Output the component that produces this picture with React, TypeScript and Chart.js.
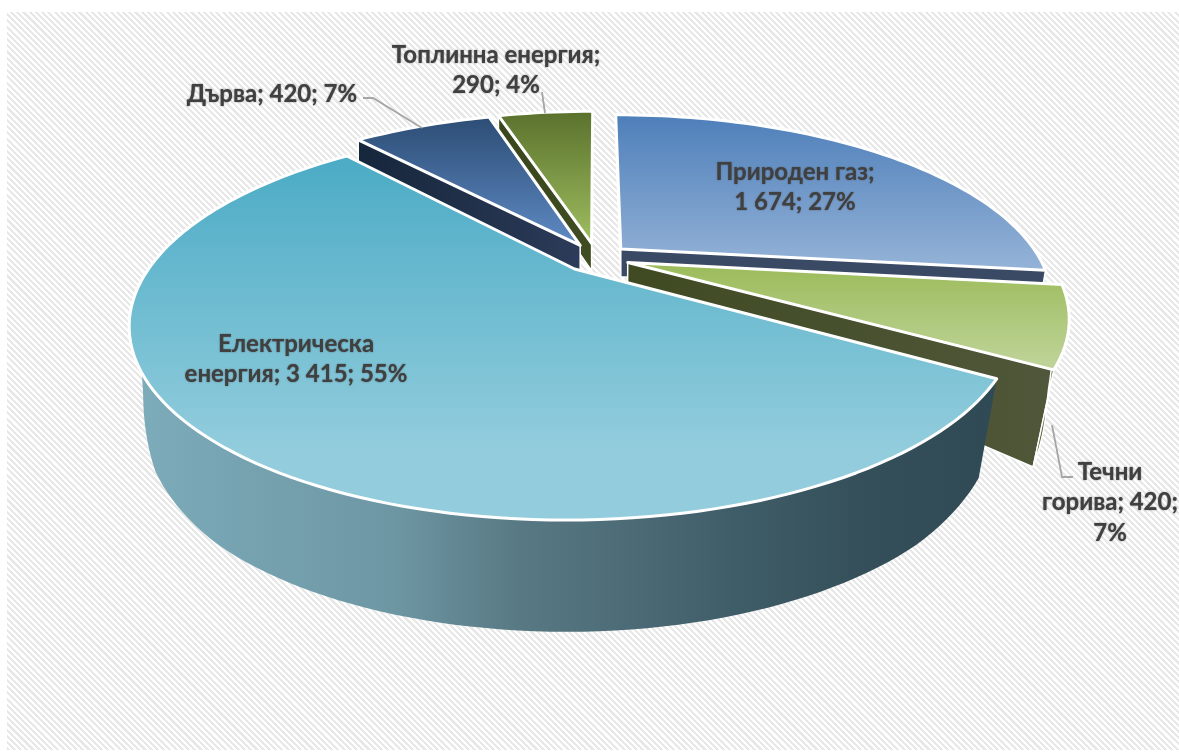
import React, { useEffect, useRef } from "react";
import { Chart, registerables } from "chart.js";

Chart.register(...registerables);

const categories = ["Природен газ", "Течни горива", "Електрическа енергия", "Дърва", "Топлинна енергия"];
const values = [1674, 420, 3415, 420, 290];
const percents = [27, 7, 55, 7, 4];

// layout only
const W = 1179, H = 753;
const X0 = 596.75, Y0 = 258, RX = 419, RY = 175.3, K = 0.273;
const SHRINK_LEFT = 0.03, SHRINK_RIGHT = 0.045;
const depthTable = [[-1.2, 20], [-0.5, 24], [0, 28], [0.3, 60], [0.55, 98], [0.8, 108], [1.15, 113]];
const sliceOffsets = [28, 28, 29, 30, 31];
const drawOrder = [4, 3, 0, 1, 2];
const visibleSides = [[true, true], [false, true], [false, false], [true, false], [true, false]];
const topColors = [["#4e7fba", "#95b3d7"], ["#9bbb59", "#c0d49b"], ["#4babc5", "#93cddd"], ["#2c4d75", "#5f8ac4"], ["#5a712c", "#9fbe60"]];
const topEnds = [1, 1, 0.82, 1, 1];
const sideColors = [["#3b4a64", "#3b4a64"], ["#3f4a22", "#50573a"], ["#2f4b55", "#2f4b55"], ["#16263b", "#2b3b59"], ["#39461c", "#404d22"]];
const outerColors = ["", "#4f5e2f", "", "", ""];
const bigWallStops: [number, string][] = [[0, "#7dacbb"], [0.3, "#6e97a4"], [0.45, "#587984"], [0.7, "#3f5d68"], [0.85, "#344f59"], [1, "#2f4a54"]];
const lineWordCounts = [[2, 3], [1, 2, 1], [1, 4], [3], [2, 2]];
const labelCentres = [[795, 172], [1110, 472], [296, 344], [272, 94], [496, 55]];
const leaders = [
  null,
  [[1052, 425], [1062, 477], [1073, 477]],
  null,
  [[363, 98], [373, 98], [422, 128]],
  [[542, 92], [545, 113]],
];
const FONT = 'bold 24px Lato, "Open Sans"';
const LINE_H = 30.5;

const fmt = (v: number) => String(v).replace(/\B(?=(\d{3})+$)/g, " ");

function labelLines(i: number): string[] {
  const words = `${categories[i]}; ${fmt(values[i])}; ${percents[i]}%`.split(" ");
  const out: string[] = [];
  let p = 0;
  for (const n of lineWordCounts[i]) {
    out.push(words.slice(p, p + n).join(" "));
    p += n;
  }
  return out;
}

function project(u: number, v: number): [number, number] {
  const w = 1 - K * v;
  return [X0 + (RX * u) / w, Y0 + (RY * v) / w];
}
function depth(v: number): number {
  for (let i = 1; i < depthTable.length; i++) {
    if (v <= depthTable[i][0]) {
      const [a, da] = depthTable[i - 1];
      const [b, db] = depthTable[i];
      return da + ((db - da) * (v - a)) / (b - a);
    }
  }
  return depthTable[depthTable.length - 1][1];
}
function lower(u: number, v: number): [number, number] {
  const [x, y] = project(u, v);
  const fade = Math.max(0, Math.min(1, (v + 0.05) / 0.4));
  const s = (x < X0 ? SHRINK_LEFT : SHRINK_RIGHT) * fade;
  return [X0 + (x - X0) * (1 - s), y + depth(v)];
}

function poly(ctx: CanvasRenderingContext2D, pts: [number, number][]) {
  ctx.beginPath();
  pts.forEach((p, i) => (i ? ctx.lineTo(p[0], p[1]) : ctx.moveTo(p[0], p[1])));
  ctx.closePath();
}
function gradY(ctx: CanvasRenderingContext2D, pts: [number, number][], c: string[], end: number) {
  const ys = pts.map((p) => p[1]);
  const a = Math.min(...ys), b = Math.max(...ys);
  const g = ctx.createLinearGradient(0, a, 0, a + (b - a) * end);
  g.addColorStop(0, c[0]);
  g.addColorStop(1, c[1]);
  return g;
}
function gradX(ctx: CanvasRenderingContext2D, pts: [number, number][], c: string[]) {
  const xs = pts.map((p) => p[0]);
  const g = ctx.createLinearGradient(Math.min(...xs), 0, Math.max(...xs), 0);
  g.addColorStop(0, c[0]);
  g.addColorStop(1, c[1]);
  return g;
}

function drawSlice(ctx: CanvasRenderingContext2D, arc: any, i: number) {
  const { startAngle, endAngle, outerRadius } = arc;
  const e = (arc.options.offset || 0) / outerRadius;
  const mid = (startAngle + endAngle) / 2;
  const ou = e * Math.cos(mid), ov = e * Math.sin(mid);
  const steps = Math.max(8, Math.round(((endAngle - startAngle) / (2 * Math.PI)) * 220));
  const rim: [number, number][] = [];
  for (let s = 0; s <= steps; s++) {
    const a = startAngle + ((endAngle - startAngle) * s) / steps;
    rim.push([ou + Math.cos(a), ov + Math.sin(a)]);
  }
  const topRim = rim.map(([u, v]) => project(u, v));
  const lowRim = rim.map(([u, v]) => lower(u, v));
  const apexT = project(ou, ov);
  const apexL = lower(ou, ov);

  ctx.lineJoin = "round";
  // radial walls
  const sideA: [number, number][] = [apexT, topRim[0], lowRim[0], apexL];
  const sideB: [number, number][] = [apexT, topRim[steps], lowRim[steps], apexL];
  [sideA, sideB].forEach((side, n) => {
    if (!visibleSides[i][n]) return;
    poly(ctx, side);
    ctx.fillStyle = gradX(ctx, side, sideColors[i]);
    ctx.fill();
    ctx.strokeStyle = "#ffffff";
    ctx.lineWidth = 1.5;
    ctx.stroke();
  });
  // outer wall, only where it faces the viewer
  const wall = [...topRim, ...[...lowRim].reverse()];
  if (i === 2) {
    poly(ctx, wall);
    const xs = wall.map((p) => p[0]);
    const g = ctx.createLinearGradient(Math.min(...xs), 0, Math.max(...xs), 0);
    bigWallStops.forEach(([o, c]) => g.addColorStop(o, c));
    ctx.fillStyle = g;
    ctx.fill();
  } else if (outerColors[i]) {
    poly(ctx, wall);
    ctx.fillStyle = outerColors[i];
    ctx.fill();
    ctx.strokeStyle = "#ffffff";
    ctx.lineWidth = 1.5;
    ctx.stroke();
  }
  // top surface
  const top: [number, number][] = [apexT, ...topRim];
  poly(ctx, top);
  ctx.fillStyle = gradY(ctx, top, topColors[i], topEnds[i]);
  ctx.fill();
  ctx.strokeStyle = "#ffffff";
  ctx.lineWidth = 3;
  ctx.stroke();
}

const perspectivePie = {
  id: "perspectivePie",
  beforeDatasetDraw(chart: any, args: any) {
    const ctx = chart.ctx;
    const arcs = args.meta.data;
    ctx.save();
    drawOrder.forEach((i) => drawSlice(ctx, arcs[i], i));
    ctx.restore();
    return false;
  },
  afterDatasetsDraw(chart: any) {
    const ctx = chart.ctx;
    ctx.save();
    ctx.strokeStyle = "#a6a6a6";
    ctx.lineWidth = 1.8;
    leaders.forEach((pts) => {
      if (!pts) return;
      ctx.beginPath();
      pts.forEach((p, j) => (j ? ctx.lineTo(p[0], p[1]) : ctx.moveTo(p[0], p[1])));
      ctx.stroke();
    });
    ctx.font = FONT;
    ctx.fillStyle = "#404040";
    ctx.shadowColor = "rgba(64,64,64,0.8)";
    ctx.shadowBlur = 1.5;
    ctx.textAlign = "center";
    ctx.textBaseline = "middle";
    categories.forEach((_, i) => {
      labelLines(i).forEach((line, j) => {
        ctx.fillText(line, labelCentres[i][0], labelCentres[i][1] + j * LINE_H);
      });
    });
    ctx.restore();
  },
};

export default function App() {
  const ref = useRef<HTMLCanvasElement>(null);
  useEffect(() => {
    document.body.style.margin = "0";
    const chart = new Chart(ref.current!, {
      type: "pie",
      data: {
        labels: categories,
        datasets: [
          {
            data: values,
            offset: sliceOffsets,
            backgroundColor: topColors.map((c) => c[1]),
            borderColor: "#ffffff",
          },
        ],
      },
      options: {
        responsive: false,
        animation: false,
        plugins: { legend: { display: false }, tooltip: { enabled: false } },
      },
      plugins: [perspectivePie],
    } as any);
    return () => chart.destroy();
  }, []);
  return (
    <div style={{ position: "relative", width: W, height: H, background: "#fff", overflow: "hidden" }}>
      <div
        style={{
          position: "absolute",
          left: 7,
          top: 12,
          right: 0,
          bottom: 3,
          background: "repeating-linear-gradient(45deg, #e8e8e8 0, #e8e8e8 2.2px, #ffffff 2.2px, #ffffff 4.4px)",
        }}
      />
      <canvas ref={ref} width={W} height={H} style={{ position: "absolute", left: 0, top: 0, display: "block" }} />
    </div>
  );
}
